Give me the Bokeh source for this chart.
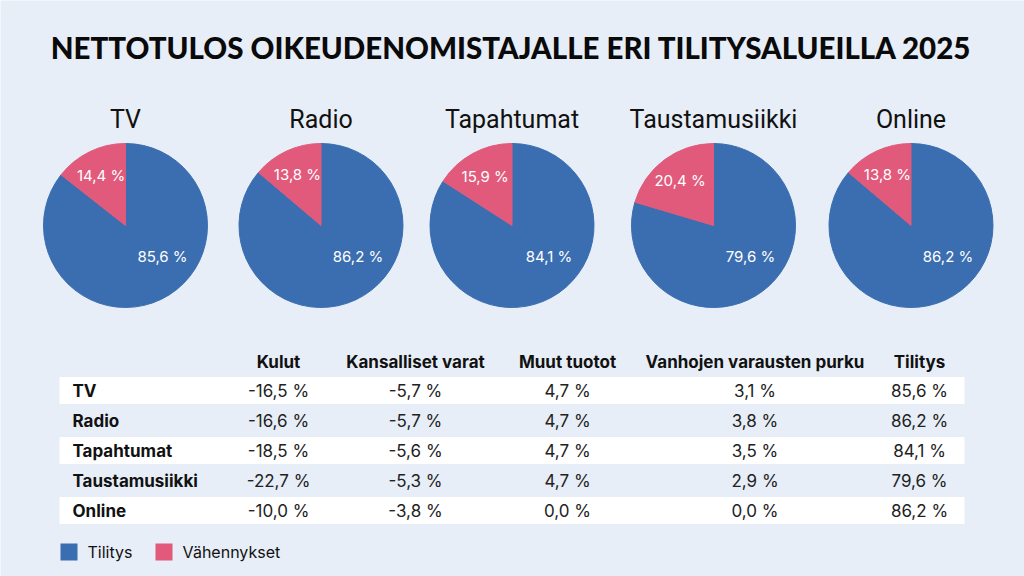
import math
from bokeh.plotting import figure
from bokeh.models import Range1d, ColumnDataSource
from bokeh.core.properties import value
from bokeh.embed import file_html
from bokeh.resources import INLINE

# ---- data ----
areas = ["TV", "Radio", "Tapahtumat", "Taustamusiikki", "Online"]
tilitys = [85.6, 86.2, 84.1, 79.6, 86.2]
vahennykset = [14.4, 13.8, 15.9, 20.4, 13.8]
kulut = [-16.5, -16.6, -18.5, -22.7, -10.0]
kansalliset = [-5.7, -5.7, -5.6, -5.3, -3.8]
muut = [4.7, 4.7, 4.7, 4.7, 0.0]
vanhojen = [3.1, 3.8, 3.5, 2.9, 0.0]
columns = ["Kulut", "Kansalliset varat", "Muut tuotot", "Vanhojen varausten purku", "Tilitys"]
legend_labels = ["Tilitys", "Vähennykset"]
title = "NETTOTULOS OIKEUDENOMISTAJALLE ERI TILITYSALUEILLA 2025"

BLUE = "#3b6eb1"
PINK = "#e15a7b"
BG = "#e7eef7"
BODY = "Inter"
TITLE_FONT = "Lato Black"

W, H = 1024, 576
def Y(sy):
    return H - sy

def fmt(v):
    s = f"{v:.1f}".replace(".", ",")
    return s + " %"

p = figure(width=W, height=H, x_range=Range1d(0, W), y_range=Range1d(0, H),
           output_backend="svg", toolbar_location=None, min_border=0)
p.axis.visible = False
p.grid.visible = False
p.outline_line_color = None
p.background_fill_color = BG
p.border_fill_color = BG

# title
p.text(x=[511], y=[Y(47)], text=[title], text_font=value(TITLE_FONT), text_font_style="bold",
       text_font_size="29.5px", text_align="center", text_baseline="middle", text_color="#0a0a0a")

# pies
cx = [125, 320.5, 511.5, 713, 910.5]
cy = Y(225)
R = 82
start_top = math.pi / 2
pink_start, pink_end, blue_start, blue_end = [], [], [], []
pink_lx, pink_ly, blue_lx, blue_ly = [], [], [], []
for i in range(len(areas)):
    tot = tilitys[i] + vahennykset[i]
    a_p = vahennykset[i] / tot * 2 * math.pi
    pink_start.append(start_top)
    pink_end.append(start_top + a_p)
    blue_start.append(start_top + a_p)
    blue_end.append(start_top + 2 * math.pi)
    mid = start_top + a_p / 2
    pink_lx.append(cx[i] + 56 * math.cos(mid))
    pink_ly.append(cy + 56 * math.sin(mid))
    blue_lx.append(cx[i] + 37)
    blue_ly.append(cy - 31)

src = ColumnDataSource(dict(x=cx, y=[cy] * 5, ps=pink_start, pe=pink_end, bs=blue_start, be=blue_end))
p.wedge(x="x", y="y", radius=R, start_angle="bs", end_angle="be", color=BLUE, line_color=BLUE, source=src)
p.wedge(x="x", y="y", radius=R, start_angle="ps", end_angle="pe", color=PINK, line_color=PINK, source=src)

p.text(x=cx, y=[Y(119)] * 5, text=areas, text_font=value("Roboto"), text_font_size="25px",
       text_align="center", text_baseline="middle", text_color="#111111")
p.text(x=pink_lx, y=pink_ly, text=[fmt(v) for v in vahennykset], text_font=value(BODY),
       text_font_size="15px", text_align="center", text_baseline="middle", text_color="white")
p.text(x=blue_lx, y=blue_ly, text=[fmt(v) for v in tilitys], text_font=value(BODY),
       text_font_size="15px", text_align="center", text_baseline="middle", text_color="white")

# table
row_y = [Y(390 + 30 * i) for i in range(5)]
band_rows = [0, 2, 4]
p.quad(left=[59] * 3, right=[964] * 3, top=[row_y[i] + 13.5 for i in band_rows],
       bottom=[row_y[i] - 13.5 for i in band_rows], color="white", line_color=None)
col_x = [278, 415, 567, 754.5, 919]
p.text(x=col_x, y=[Y(361)] * 5, text=columns, text_font=value(BODY), text_font_style="bold",
       text_font_size="17px", text_align="center", text_baseline="middle", text_color="#111111")
p.text(x=[72] * 5, y=row_y, text=areas, text_font=value(BODY), text_font_style="bold",
       text_font_size="17px", text_align="left", text_baseline="middle", text_color="#111111")
for j, col in enumerate([kulut, kansalliset, muut, vanhojen, tilitys]):
    p.text(x=[col_x[j]] * 5, y=row_y, text=[fmt(v) for v in col], text_font=value(BODY),
           text_font_size="17px", text_align="center", text_baseline="middle", text_color="#222222")

# legend
lx = [60, 155]
p.quad(left=lx, right=[v + 17 for v in lx], top=[Y(543)] * 2, bottom=[Y(560)] * 2,
       color=[BLUE, PINK], line_color=None)
p.text(x=[v + 27 for v in lx], y=[Y(551.5)] * 2, text=legend_labels, text_font=value(BODY),
       text_font_size="16px", text_align="left", text_baseline="middle", text_color="#111111")

open("out.html", "w").write(file_html(p, INLINE))
